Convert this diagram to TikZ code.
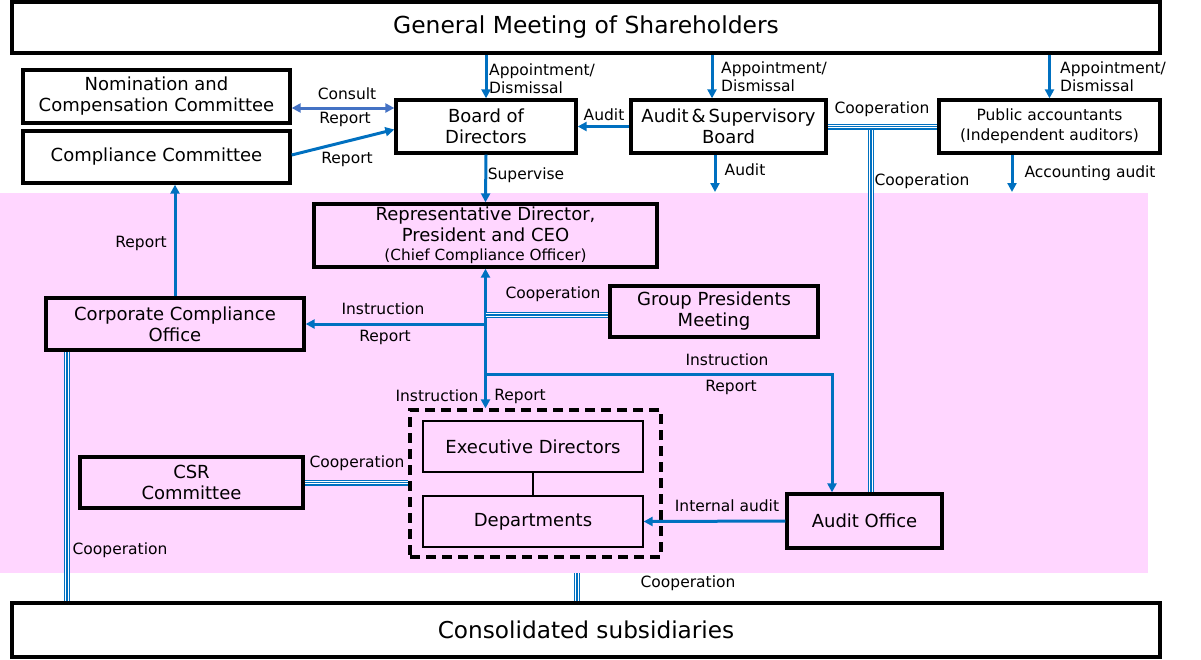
\documentclass[tikz,border=0pt]{standalone}
\usepackage{fontspec}
\setmainfont{DejaVu Sans}
\usetikzlibrary{arrows.meta}
\definecolor{arrblue}{HTML}{0070C0}
\definecolor{lblue}{HTML}{4472C4}
\definecolor{pinkbg}{HTML}{FFD6FF}
\newcommand{\myfs}[2]{\fontsize{#1}{#2}\selectfont}
\tikzset{
  box/.style={draw=black, line width=3.3pt, inner sep=0pt, align=center, font=\myfs{18}{21}},
  thinbox/.style={draw=black, line width=1.2pt, inner sep=0pt, align=center, font=\myfs{18}{21}},
  lbl/.style={font=\myfs{15.5}{18}, inner sep=0pt, text=black, align=left},
  tip/.style={Triangle[length=9pt,width=9pt]},
  arr/.style={draw=arrblue, line width=3pt, -{Triangle[length=9pt,width=9pt]}},
  dblarr/.style={draw=lblue, line width=3pt, {Triangle[length=9pt,width=9pt]}-{Triangle[length=9pt,width=9pt]}},
  coop/.style={draw=arrblue, line width=6pt, postaction={draw=white, line width=3.6pt}, postaction={draw=arrblue, line width=1.2pt}},
}
\begin{document}
\begin{tikzpicture}[x=1pt, y=-1pt]
\useasboundingbox (0,0) rectangle (1201,659);
\fill[pinkbg] (0,193) rectangle (1148,573);

% helper coordinates
\coordinate (x712) at (712,0);
\coordinate (x715) at (715,0);
\coordinate (x1012) at (1012,0);
\coordinate (x871) at (871,0);
\coordinate (x832) at (832,0);
\coordinate (x67) at (67,0);
\coordinate (x577) at (577,0);
\coordinate (y108) at (0,108);
\coordinate (y315) at (0,315);
\coordinate (y374) at (0,374);
\coordinate (y192) at (0,192);
\coordinate (coopend) at (577,573);

% boxes
\node[box, minimum width=1148pt, minimum height=51pt, font=\myfs{23.4}{27}] (GM) at (586,27.5) {General Meeting of Shareholders};
\node[box, minimum width=267pt, minimum height=53pt] (Nom) at (156.5,96.5) {Nomination and\\Compensation Committee};
\node[box, minimum width=267pt, minimum height=52pt] (CompC) at (156.5,157) {Compliance Committee};
\node[box, minimum width=180pt, minimum height=53pt] (Board) at (486,126.5) {Board of\\Directors};
\node[box, minimum width=195pt, minimum height=53pt] (ASB) at (728.5,126.5) {Audit\,\&\,Supervisory\\Board};
\node[box, minimum width=221pt, minimum height=53pt, font=\myfs{15.5}{20}] (PA) at (1049.5,126.5) {Public accountants\\(Independent auditors)};
\node[box, minimum width=343pt, minimum height=63pt] (Rep) at (485.5,235.5) {Representative Director,\\President and CEO\\[-2pt]{\myfs{15.3}{16}(Chief Compliance Officer)}};
\node[box, minimum width=208pt, minimum height=51pt] (GPM) at (714,311.5) {Group Presidents\\Meeting};
\node[box, minimum width=258pt, minimum height=52pt] (CCO) at (175,324) {Corporate Compliance\\Office};
\node[draw=black, line width=3.3pt, dash pattern=on 10pt off 6pt, minimum width=251pt, minimum height=147pt, inner sep=0pt] (Dashed) at (535.5,483.5) {};
\node[thinbox, minimum width=220pt, minimum height=51pt] (Exec) at (533,446.5) {Executive Directors};
\node[thinbox, minimum width=220pt, minimum height=51pt] (Dept) at (533,521.5) {Departments};
\node[box, minimum width=223pt, minimum height=51pt] (CSR) at (191.5,482.5) {CSR\\Committee};
\node[box, minimum width=155pt, minimum height=54pt] (AO) at (864.5,521) {Audit Office};
\node[box, minimum width=1148pt, minimum height=54pt, font=\myfs{23.2}{27}] (CS) at (586,630) {Consolidated subsidiaries};

% connectors
\draw[arr] (GM.south -| Board.north) -- (Board.north);
\draw[arr] (GM.south -| x712) -- (ASB.north -| x712);
\draw[arr] (GM.south -| PA.north) -- (PA.north);
\draw[dblarr] (Nom.east |- y108) -- (Board.west |- y108);
\draw[arr] ([yshift=2pt]CompC.east) -- ([yshift=-3pt]Board.west);
\draw[arr] (ASB.west) -- (Board.east);
\draw[coop] (ASB.east -| x871) -- (AO.north -| x871);
\draw[coop] (ASB.east) -- (PA.west);
\draw[arr] (ASB.south -| x715) -- (y192 -| x715);
\draw[arr] (PA.south -| x1012) -- (y192 -| x1012);
\draw[arr] (Board.south) -- (Rep.north);
\draw[arr] (CCO.north) -- (CCO.north |- CompC.south);
\draw[arr, {Triangle[length=9pt,width=9pt]}-{Triangle[length=9pt,width=9pt]}] (Rep.south) -- (Rep.south |- Dashed.north);
\draw[arr] (Rep.south |- CCO.east) -- (CCO.east);
\draw[coop] (Rep.south |- y315) -- (GPM.west |- y315);
\draw[arr] (Rep.south |- y374) -| (AO.north -| x832);
\draw[coop] (CSR.east) -- (Dashed.west |- CSR.east);
\draw[black, line width=2pt] (Exec.south) -- (Dept.north);
\draw[arr] (AO.west) -- (Dept.east);
\draw[coop] (CCO.south -| x67) -- (CS.north -| x67);
\draw[coop] (coopend) -- (CS.north -| x577);

% labels
\node[lbl, anchor=west] (l1) at (489,79) {Appointment/\\Dismissal};
\node[lbl, anchor=west] (l2) at (721,77) {Appointment/\\Dismissal};
\node[lbl, anchor=west] (l3) at (1060,77) {Appointment/\\Dismissal};
\node[lbl] (l4) at (347,94) {Consult};
\node[lbl] (l5) at (345,119) {Report};
\node[lbl] (l6) at (347,159) {Report};
\node[lbl] (l7) at (604,115) {Audit};
\node[lbl] (l8) at (882,109) {Cooperation};
\node[lbl] (l9) at (922,181) {Cooperation};
\node[lbl] (l10) at (745,170) {Audit};
\node[lbl] (l11) at (1090,173) {Accounting audit};
\node[lbl] (l12) at (526,175) {Supervise};
\node[lbl] (l13) at (141,243) {Report};
\node[lbl] (l14) at (383,309) {Instruction};
\node[lbl] (l15) at (385,337) {Report};
\node[lbl] (l16) at (553,294) {Cooperation};
\node[lbl] (l17) at (727,360) {Instruction};
\node[lbl] (l18) at (731,387) {Report};
\node[lbl] (l19) at (437,396) {Instruction};
\node[lbl] (l20) at (520,396) {Report};
\node[lbl] (l21) at (357,463) {Cooperation};
\node[lbl] (l22) at (727,506) {Internal audit};
\node[lbl] (l23) at (120,550) {Cooperation};
\node[lbl] (l24) at (688,583) {Cooperation};
\end{tikzpicture}
\end{document}
